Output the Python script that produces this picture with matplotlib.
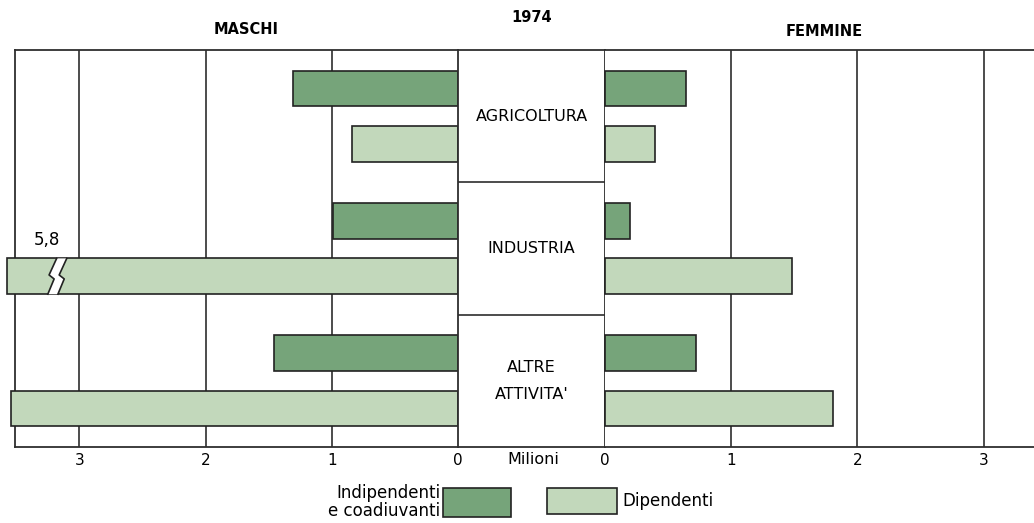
import numpy as np
import matplotlib
matplotlib.use("Agg")
import matplotlib.pyplot as plt
from matplotlib.patches import Rectangle, Polygon

plt.rcParams['font.family'] = ['DejaVu Sans']

# dati (milioni di occupati, 1974)
settori = ['AGRICOLTURA', 'INDUSTRIA', "ALTRE\nATTIVITA'"]
maschi_indip = [1.31, 0.99, 1.46]
maschi_dip = [0.84, 5.8, 3.54]
femmine_indip = [0.64, 0.20, 0.72]
femmine_dip = [0.40, 1.48, 1.81]
tick_vals = [0, 1, 2, 3]

col_indip = '#76a47a'
col_dip = '#c2d8bb'
col_line = '#2e2e2e'

W, H = 1034, 523
fig = plt.figure(figsize=(W / 100, H / 100), dpi=100)

top = 1 - 50 / H
bot = 1 - 447 / H
x0, xz1, xz2 = 15 / W, 458 / W, 605 / W
ax_l = fig.add_axes([x0, bot, xz1 - x0, top - bot])
ax_c = fig.add_axes([xz1, bot, xz2 - xz1, top - bot])
ax_r = fig.add_axes([xz2, bot, 1 - xz2, top - bot])

lim_l = 3.51
lim_r = 3.40
cap = 3.57  # barre oltre il bordo vengono troncate
y = np.arange(len(settori))
off_i, off_d, h = 0.29, 0.71, 0.27

for ax, lim in [(ax_l, lim_l), (ax_r, lim_r)]:
    ax.set_ylim(len(settori), 0)
    for v in tick_vals[1:]:
        ax.axvline(v, color=col_line, lw=1.2, zorder=1)
    ax.set_xticks(tick_vals)
    ax.set_xticklabels([str(v) for v in tick_vals])
    ax.tick_params(axis='x', length=0, pad=4, labelsize=11)
    ax.set_yticks([])
    for s in ax.spines.values():
        s.set_color(col_line)
        s.set_linewidth(1.3)
ax_l.set_xlim(lim_l, 0)
ax_r.set_xlim(0, lim_r)
ax_l.spines['right'].set_visible(False)
ax_r.spines['left'].set_visible(False)
ax_r.spines['right'].set_visible(False)

bar_kw = dict(edgecolor='#222222', linewidth=1.2, zorder=3, clip_on=False)
ax_l.barh(y + off_i, maschi_indip, height=h, color=col_indip, **bar_kw)
ax_l.barh(y + off_d, np.minimum(maschi_dip, cap), height=h, color=col_dip, **bar_kw)
ax_r.barh(y + off_i, femmine_indip, height=h, color=col_indip, **bar_kw)
ax_r.barh(y + off_d, femmine_dip, height=h, color=col_dip, **bar_kw)

# interruzione della barra troppo lunga
for i, v in enumerate(maschi_dip):
    if v > cap:
        yt, yb = y[i] + off_d - h / 2, y[i] + off_d + h / 2
        ym = y[i] + off_d
        xb = 3.20
        zz = [(xb - 0.02, yt), (xb + 0.04, ym - 0.01), (xb, ym + 0.02), (xb + 0.05, yb)]
        zz2 = [(px - 0.08, py) for px, py in zz]
        ax_l.add_patch(Polygon(zz + zz2[::-1], closed=True, facecolor='white',
                               edgecolor='none', zorder=4, clip_on=False))
        for line in (zz, zz2):
            ax_l.plot([p[0] for p in line], [p[1] for p in line], color='#222222',
                      lw=1.2, zorder=5, clip_on=False)
        ax_l.text(3.26, yt - 0.14, f'{v:.1f}'.replace('.', ','), ha='center',
                  va='center', fontsize=12)

# riquadro centrale con i settori
ax_c.set_xlim(0, 1)
ax_c.set_ylim(len(settori), 0)
ax_c.set_xticks([])
ax_c.set_yticks([])
for s in ax_c.spines.values():
    s.set_color(col_line)
    s.set_linewidth(1.3)
for i in range(1, len(settori)):
    ax_c.axhline(i, color=col_line, lw=1.2)
for i, name in enumerate(settori):
    ax_c.text(0.5, i + 0.5, name, ha='center', va='center', fontsize=11.5,
              linespacing=2.0)

# titoli
fig.text(246 / W, 1 - 30 / H, 'MASCHI', ha='center', va='center', fontsize=10.5, weight='bold')
fig.text(532 / W, 1 - 17 / H, '1974', ha='center', va='center', fontsize=10.5, weight='bold')
fig.text(824 / W, 1 - 32 / H, 'FEMMINE', ha='center', va='center', fontsize=10.5, weight='bold')
fig.text(533 / W, 1 - 459 / H, 'Milioni', ha='center', va='center', fontsize=11.5)

# legenda
fig.patches.append(Rectangle((443 / W, 1 - 517 / H), 68 / W, 29 / H, transform=fig.transFigure,
                             facecolor=col_indip, edgecolor='#222222', lw=1.2))
fig.patches.append(Rectangle((547 / W, 1 - 514 / H), 70 / W, 26 / H, transform=fig.transFigure,
                             facecolor=col_dip, edgecolor='#222222', lw=1.2))
fig.text(440 / W, 1 - 493 / H, 'Indipendenti', ha='right', va='center', fontsize=12)
fig.text(440 / W, 1 - 511 / H, 'e coadiuvanti', ha='right', va='center', fontsize=12)
fig.text(622 / W, 1 - 501 / H, 'Dipendenti', ha='left', va='center', fontsize=12)

fig.savefig('out.png', dpi=100)
